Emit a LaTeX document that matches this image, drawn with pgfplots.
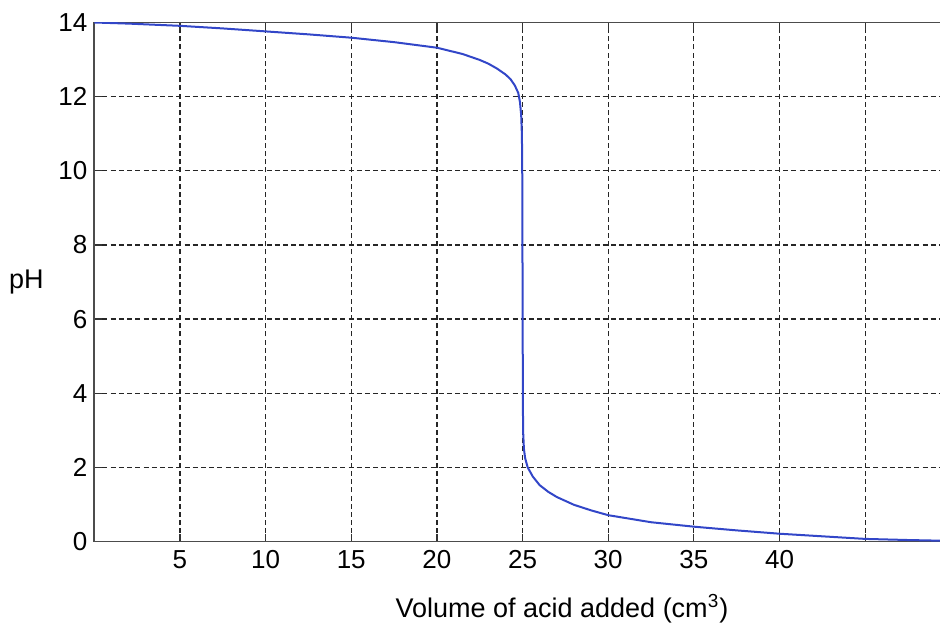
\documentclass[border=0pt]{standalone}
\usepackage{pgfplots}
\pgfplotsset{compat=1.18}
\usepackage{fontspec}
\setmainfont{Liberation Sans}
\definecolor{curveblue}{RGB}{50,70,200}

\begin{document}
\begin{tikzpicture}
\path[use as bounding box] (-47.15pt,-44.75pt) rectangle (422.85pt,270.75pt);
\clip (-47.15pt,-44.75pt) rectangle (422.85pt,270.75pt);
\begin{axis}[
    scale only axis,
    width=428.25pt, height=259.5pt,
    xmin=0, xmax=50,
    ymin=0, ymax=14,
    xtick={5,10,...,45},
    xticklabels={5,10,15,20,25,30,35,40,},
    ytick={0,2,...,14},
    tick align=inside,
    major tick length=4pt,
    tick style={black!80, line width=0.6pt},
    axis line style={black!70, line width=0.9pt},
    grid=major,
    grid style={black!85, line width=0.6pt, dash pattern=on 2.5pt off 1.6pt},
    /pgf/number format/assume math mode=true,
    ticklabel style={font=\fontsize{13}{15}\selectfont},
    xticklabel style={yshift=-1pt},
    xlabel={Volume of acid added (cm\textsuperscript{3})},
    every axis x label/.style={at={(axis description cs:0.546,0)}, anchor=base,
        yshift=-38pt, font=\fontsize{13.5}{16}\selectfont},
    ylabel={pH},
    every axis y label/.style={at={(axis description cs:0,0.5)}, anchor=center,
        xshift=-34pt, font=\fontsize{13.5}{16}\selectfont},
]
\addplot[curveblue, line width=1pt] coordinates {
    (0,14.0)(2,13.97)(5,13.91)(7.5,13.84)(10,13.76)(12.5,13.68)
    (15,13.59)(17.5,13.47)(20,13.32)(21.5,13.15)(22.5,12.99)(23,12.89)
    (23.5,12.76)(24,12.6)(24.3,12.47)(24.55,12.3)(24.75,12.1)(24.85,11.85)
    (24.92,11.5)(24.96,11.0)(24.98,10.3)(25.0,7.0)(25.02,3.6)(25.04,2.9)
    (25.08,2.5)(25.15,2.25)(25.3,2.0)(25.6,1.75)(26,1.52)(26.5,1.34)(27,1.2)
    (28,0.99)(29,0.84)(30,0.71)(32.5,0.52)(35,0.40)(37.5,0.30)
    (40,0.21)(42.5,0.14)(45,0.07)(47.5,0.04)(49.6,0.02)
};
\end{axis}
\end{tikzpicture}
\end{document}
